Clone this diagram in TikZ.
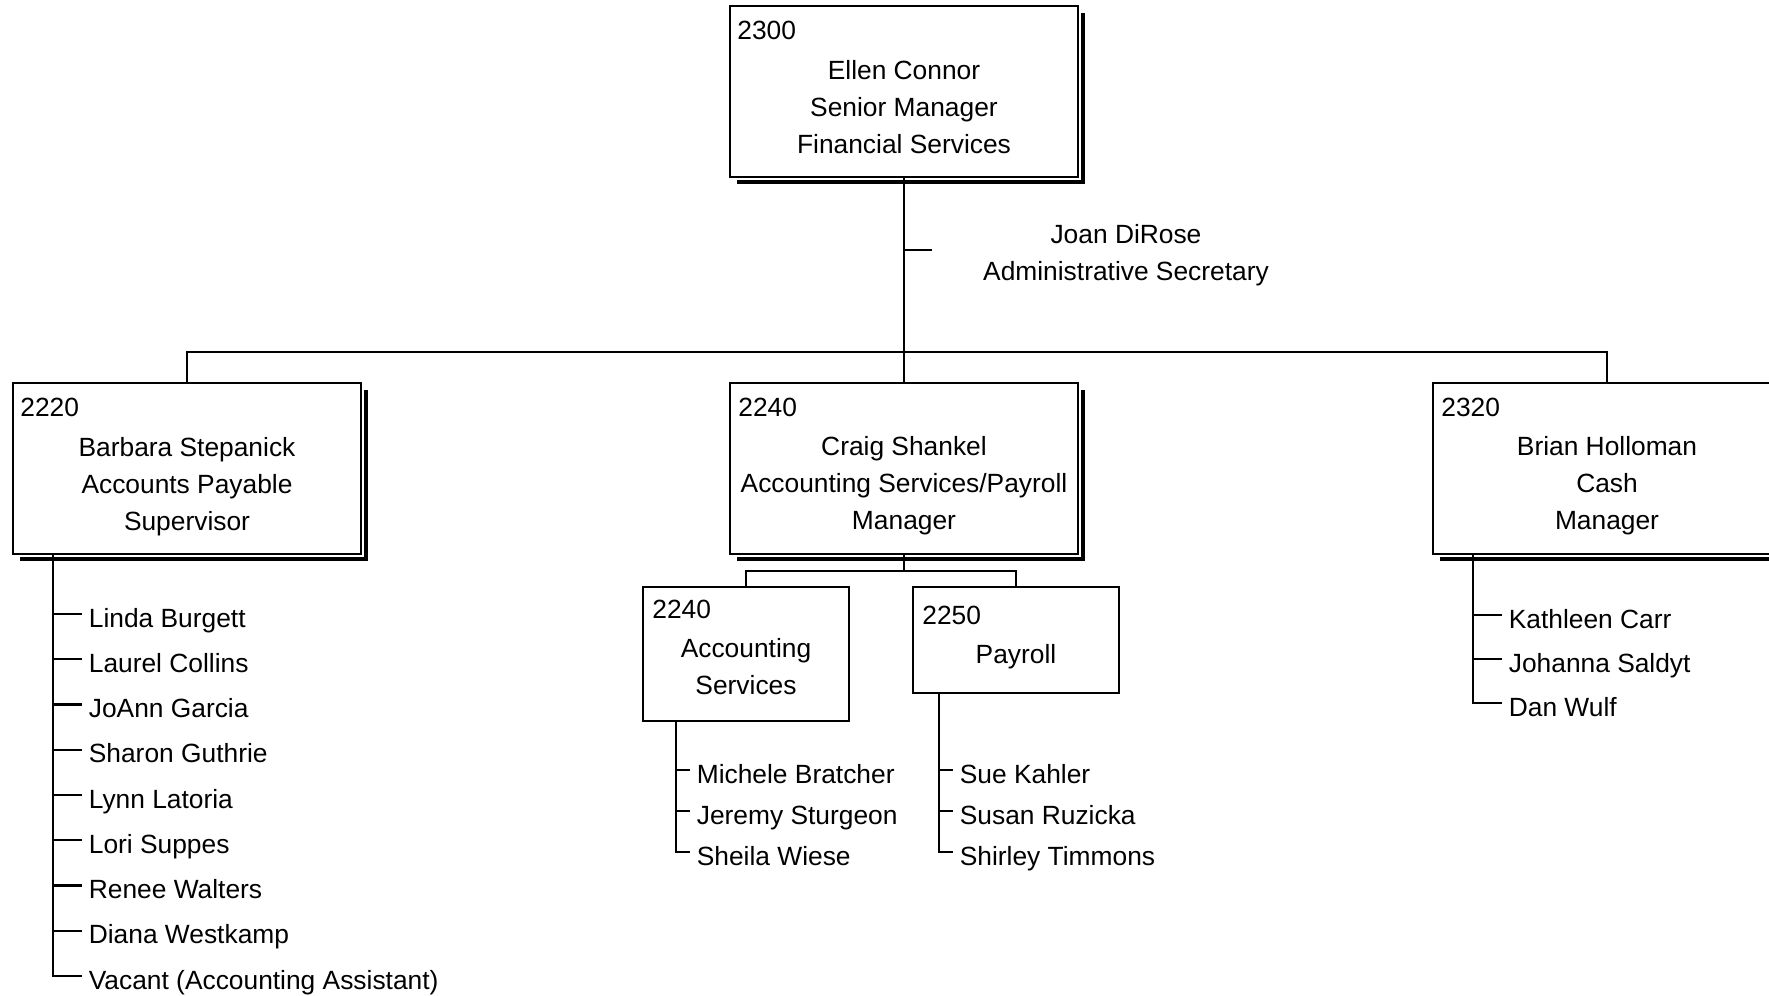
\documentclass[tikz,border=0pt]{standalone}
\usepackage{fontspec}
\setmainfont{Liberation Sans}
\usetikzlibrary{shadows}

\begin{document}
\begin{tikzpicture}[x=0.02cm, y=-0.02cm,
    every node/.style={font=\fontsize{15pt}{21pt}\selectfont},
    line/.style={line width=0.046cm},
    headbox/.style={draw, fill=white, line width=0.055cm, inner sep=0pt,
        minimum width=6.96cm, minimum height=3.42cm,
        drop shadow={shadow xshift=0.14cm, shadow yshift=-0.14cm, fill=black, opacity=1},
        preaction={draw=white, line width=0.12cm}},
    unitbox/.style={draw, fill=white, line width=0.04cm, inner sep=0pt, minimum width=4.12cm},
    boxtext/.style={align=center, inner sep=0pt},
    boxno/.style={anchor=base west, inner sep=0pt},
    member/.style={anchor=west, inner xsep=0.13cm, inner ysep=0pt, text height=15pt, text depth=0pt}]

    % --- Page ---
    \useasboundingbox (0,0) rectangle (1769,996);
    \clip (0,0) rectangle (1769,996);

    % --- Senior Manager ---
    \node[headbox] (ellen) at (904,91.5) {};
    \node[boxno] (ellenno) at (737,40) {2300};
    \node[boxtext] (ellentxt) at (904,107) {Ellen Connor\\Senior Manager\\Financial Services};

    % --- Secretary ---
    \node[boxtext] (joan) at (1126,255) {Joan DiRose\\Administrative Secretary};
    \coordinate (joantick) at (932,250);

    % --- Managers ---
    \node[headbox] (barbara) at (187,468.5) {};
    \node[boxno] (barbarano) at (20,417) {2220};
    \node[boxtext] (barbaratxt) at (187,486.5) {Barbara Stepanick\\Accounts Payable\\Supervisor};

    \node[headbox] (craig) at (904,468.5) {};
    \node[boxno] (craigno) at (738,417) {2240};
    \node[boxtext] (craigtxt) at (904,486) {Craig Shankel\\Accounting Services/Payroll\\Manager};

    \node[headbox] (brian) at (1607,468.5) {};
    \node[boxno] (brianno) at (1441,417) {2320};
    \node[boxtext] (briantxt) at (1607,486) {Brian Holloman\\Cash\\Manager};

    % --- Units under Craig ---
    \node[unitbox, minimum height=2.68cm] (accserv) at (746,654) {};
    \node[boxno] (accservno) at (652,619) {2240};
    \node[boxtext] (accservtxt) at (746,667) {Accounting\\Services};

    \node[unitbox, minimum height=2.12cm] (payroll) at (1016,640) {};
    \node[boxno] (payrollno) at (922,625) {2250};
    \node[boxtext] (payrolltxt) at (1016,656.5) {Payroll};

    % --- Staff ---
    \foreach \name [count=\i from 0] in {Linda Burgett, Laurel Collins, JoAnn Garcia,
        Sharon Guthrie, Lynn Latoria, Lori Suppes, Renee Walters, Diana Westkamp,
        Vacant (Accounting Assistant)}
        \node[member] (ap\i) at (82,{614+45.25*\i}) {\name};
    \foreach \name [count=\i from 0] in {Kathleen Carr, Johanna Saldyt, Dan Wulf}
        \node[member] (cash\i) at (1502,{615+44*\i}) {\name};
    \foreach \name [count=\i from 0] in {Michele Bratcher, Jeremy Sturgeon, Sheila Wiese}
        \node[member] (acc\i) at (690,{770+41*\i}) {\name};
    \foreach \name [count=\i from 0] in {Sue Kahler, Susan Ruzicka, Shirley Timmons}
        \node[member] (pay\i) at (953,{770+41*\i}) {\name};

    % --- Reporting lines ---
    \draw[line] (ellen.south) -- (craig.north);
    \draw[line] (ellen.south |- joantick) -- (joantick);
    \coordinate (bus) at (904,352);
    \draw[line] (barbara.north) |- (bus) -| (brian.north);
    \coordinate (subbus) at (904,571);
    \draw[line] (craig.south) -- (subbus);
    \draw[line] (accserv.north) |- (subbus) -| (payroll.north);

    % --- Staff lines ---
    \coordinate (apspine) at (53,0);
    \draw[line] (apspine |- barbara.south) |- (ap8.west);
    \foreach \i in {0,...,7} \draw[line] (apspine |- ap\i.west) -- (ap\i.west);

    \coordinate (cashspine) at (1473,0);
    \draw[line] (cashspine |- brian.south) |- (cash2.west);
    \foreach \i in {0,1} \draw[line] (cashspine |- cash\i.west) -- (cash\i.west);

    \coordinate (accspine) at (676,0);
    \draw[line] (accspine |- accserv.south) |- (acc2.west);
    \foreach \i in {0,1} \draw[line] (accspine |- acc\i.west) -- (acc\i.west);

    \coordinate (payspine) at (939,0);
    \draw[line] (payspine |- payroll.south) |- (pay2.west);
    \foreach \i in {0,1} \draw[line] (payspine |- pay\i.west) -- (pay\i.west);

\end{tikzpicture}
\end{document}
